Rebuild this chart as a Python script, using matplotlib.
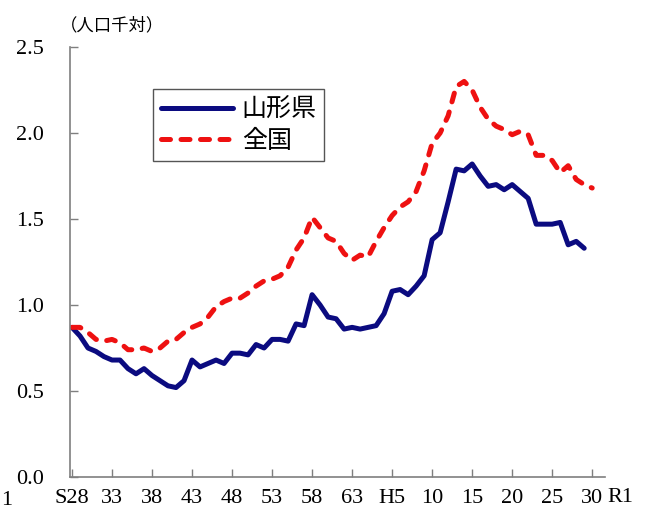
import matplotlib
matplotlib.use("Agg")
import matplotlib.pyplot as plt

NAVY = "#0b0b80"
RED = "#ee1111"
GRAY = "#7f7f7f"

# divorce rate per 1000 population, from S28 (1953)
zenkoku_years = list(range(1953, 2019))
zenkoku = [
    0.87, 0.87, 0.84, 0.80, 0.79, 0.80, 0.78, 0.74, 0.74, 0.75,
    0.73, 0.75, 0.79, 0.80, 0.84, 0.87, 0.89, 0.93, 0.99, 1.02,
    1.04, 1.04, 1.07, 1.11, 1.14, 1.15, 1.17, 1.22, 1.32, 1.39,
    1.51, 1.45, 1.39, 1.37, 1.30, 1.26, 1.29, 1.28, 1.37, 1.45,
    1.52, 1.57, 1.60, 1.66, 1.78, 1.94, 2.00, 2.10, 2.27, 2.30,
    2.25, 2.15, 2.08, 2.04, 2.02, 1.99, 2.01, 1.99, 1.87, 1.87,
    1.84, 1.77, 1.81, 1.73, 1.70, 1.68,
]
yamagata_years = list(range(1953, 2018))
yamagata = [
    0.87, 0.82, 0.75, 0.73, 0.70, 0.68, 0.68, 0.63, 0.60, 0.63,
    0.59, 0.56, 0.53, 0.52, 0.56, 0.68, 0.64, 0.66, 0.68, 0.66,
    0.72, 0.72, 0.71, 0.77, 0.75, 0.80, 0.80, 0.79, 0.89, 0.88,
    1.06, 1.00, 0.93, 0.92, 0.86, 0.87, 0.86, 0.87, 0.88, 0.95,
    1.08, 1.09, 1.06, 1.11, 1.17, 1.38, 1.42, 1.60, 1.79, 1.78,
    1.82, 1.75, 1.69, 1.70, 1.67, 1.70, 1.66, 1.62, 1.47, 1.47,
    1.47, 1.48, 1.35, 1.37, 1.33,
]
tick_years = [1953, 1958, 1963, 1968, 1973, 1978, 1983, 1988,
              1993, 1998, 2003, 2008, 2013, 2018]
tick_labels = ["S28", "33", "38", "43", "48", "53", "58", "63",
               "H5", "10", "15", "20", "25", "30"]
y_ticks = [0.0, 0.5, 1.0, 1.5, 2.0, 2.5]

JP = ["Noto Sans CJK JP", "DejaVu Sans"]
SERIF = "Liberation Serif"

fig = plt.figure(figsize=(6.45, 5.2), dpi=100)
ax = fig.add_axes([0.1085, 0.0827, 0.8295, 0.8269])

ax.plot(yamagata_years, yamagata, color=NAVY, linewidth=3.6,
        solid_joinstyle="round", solid_capstyle="round", label="山形県")
ax.plot(zenkoku_years, zenkoku, color=RED, linewidth=3.6,
        linestyle=(0, (1.8, 2.1)), dash_capstyle="round",
        dash_joinstyle="round", label="全国")

ax.set_xlim(1952.75, 2019.6)
ax.set_ylim(0, 2.5)
ax.set_xticks(tick_years, tick_labels)
ax.set_yticks(y_ticks, [f"{v:.1f}" for v in y_ticks])
ax.tick_params(axis="x", direction="in", length=6, width=1, color=GRAY,
               pad=9, labelsize=16)
ax.tick_params(axis="y", direction="in", length=6, width=1, color=GRAY,
               pad=19, labelsize=16)
for lab in ax.get_xticklabels() + ax.get_yticklabels():
    lab.set_family(SERIF)
ax.spines[["top", "right"]].set_visible(False)
ax.spines[["left", "bottom"]].set_color(GRAY)
ax.spines[["left", "bottom"]].set_linewidth(1.2)

# R1 sits past the end of the axis, as in the original
fig.text(607 / 645, 1 - 488 / 520, "R1", fontsize=16, family=SERIF,
         ha="left", va="top")
fig.text(0.002, 0.038, "1", fontsize=16, family=SERIF, ha="left", va="center")
fig.text(60 / 645, 0.952, "（人口千対）", fontsize=12.5, family=JP,
         ha="left", va="center")

leg = ax.legend(loc="upper left", bbox_to_anchor=(153 / 645, 1 - 89 / 520),
                bbox_transform=fig.transFigure, prop={"family": JP, "size": 18},
                handlelength=2.9, handletextpad=0.35, borderpad=0.3,
                labelspacing=0.2, fancybox=False, framealpha=1,
                edgecolor="#555555", borderaxespad=0)
leg.get_frame().set_linewidth(1.0)

fig.savefig("out.png", dpi=100)
